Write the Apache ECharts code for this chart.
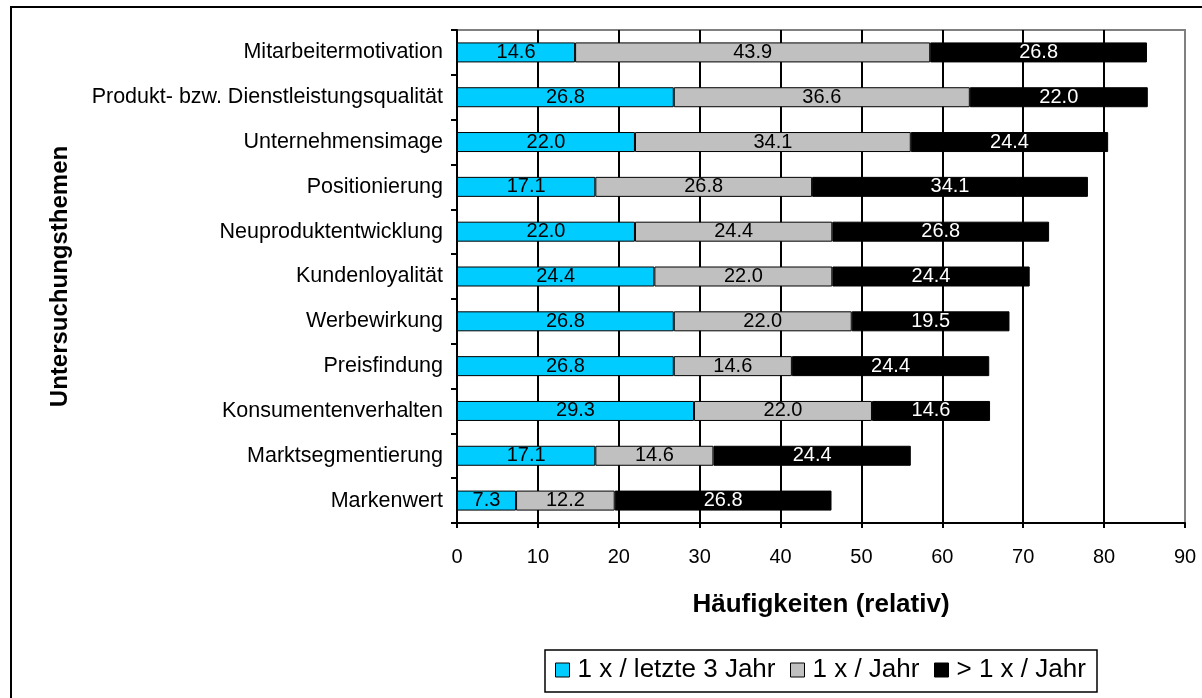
<!DOCTYPE html>
<html>
<head>
<meta charset="utf-8">
<script src="https://cdn.jsdelivr.net/npm/echarts@6/dist/echarts.min.js"></script>
<style>
  html, body { margin: 0; padding: 0; background: #fff; }
  #chart { width: 1202px; height: 698px; }
</style>
</head>
<body>
<div id="chart"></div>
<script>
// Topics, listed top to bottom
const categories = [
  'Mitarbeitermotivation',
  'Produkt- bzw. Dienstleistungsqualität',
  'Unternehmensimage',
  'Positionierung',
  'Neuproduktentwicklung',
  'Kundenloyalität',
  'Werbewirkung',
  'Preisfindung',
  'Konsumentenverhalten',
  'Marktsegmentierung',
  'Markenwert'
];
const seriesNames = ['1 x / letzte 3 Jahr', '1 x / Jahr', '> 1 x / Jahr'];
const lastThreeYears = [14.6, 26.8, 22.0, 17.1, 22.0, 24.4, 26.8, 26.8, 29.3, 17.1, 7.3];
const oncePerYear   = [43.9, 36.6, 34.1, 26.8, 24.4, 22.0, 22.0, 14.6, 22.0, 14.6, 12.2];
const moreThanOnce  = [26.8, 22.0, 24.4, 34.1, 26.8, 24.4, 19.5, 24.4, 14.6, 24.4, 26.8];
const xTicks = { min: 0, max: 90, interval: 10 };

const FONT = 'Liberation Sans, Arial, sans-serif';
const colors = ['#00CCFF', '#C0C0C0', '#000000'];
const labelColors = ['#000', '#000', '#fff'];
const dataSets = [lastThreeYears, oncePerYear, moreThanOnce];

const chart = echarts.init(document.getElementById('chart'), null, { renderer: 'canvas' });

const series = dataSets.map((d, i) => ({
  name: seriesNames[i],
  type: 'bar',
  stack: 'total',
  data: d,
  barWidth: 20,
  itemStyle: { color: colors[i], borderColor: '#000', borderWidth: 1 },
  label: {
    show: true,
    position: 'inside',
    formatter: p => p.value.toFixed(1),
    color: labelColors[i],
    fontFamily: FONT,
    fontSize: 20
  },
  emphasis: { disabled: true },
  animation: false
}));

// One legend entry per component so each entry sits at its own spot in the box
const legendLefts = [555, 790, 934];
const legends = seriesNames.map((n, i) => ({
  data: [n],
  left: legendLefts[i],
  top: 657,
  padding: 0,
  itemWidth: 14, itemHeight: 14,
  icon: 'rect',
  textStyle: { fontFamily: FONT, fontSize: 26, color: '#000', padding: [2, 0, 0, 3] },
  itemStyle: { borderColor: '#000', borderWidth: 1 },
  selectedMode: false
}));

chart.setOption({
  animation: false,
  backgroundColor: '#fff',
  textStyle: { fontFamily: FONT },
  grid: {
    left: 457, right: 17, top: 30, bottom: 175,
    show: true, borderColor: '#808080', borderWidth: 2, backgroundColor: 'transparent'
  },
  legend: legends,
  xAxis: {
    type: 'value',
    min: xTicks.min, max: xTicks.max, interval: xTicks.interval,
    name: 'Häufigkeiten (relativ)',
    nameLocation: 'middle',
    nameGap: 69,
    nameTextStyle: { fontFamily: FONT, fontSize: 26, fontWeight: 'bold', color: '#000' },
    axisLine: { show: true, lineStyle: { color: '#000', width: 2 } },
    axisTick: { show: true, length: 5, lineStyle: { color: '#000', width: 2 } },
    axisLabel: { fontFamily: FONT, fontSize: 20, color: '#000', margin: 24 },
    splitLine: { show: true, showMaxLine: false, lineStyle: { color: '#000', width: 2 } }
  },
  yAxis: {
    type: 'category',
    data: categories,
    inverse: true,
    name: 'Untersuchungsthemen',
    nameLocation: 'middle',
    nameGap: 385,
    nameRotate: 90,
    nameTextStyle: { fontFamily: FONT, fontSize: 24, fontWeight: 'bold', color: '#000' },
    axisLine: { show: true, lineStyle: { color: '#000', width: 2 } },
    axisTick: { show: true, length: 6, lineStyle: { color: '#000', width: 2 } },
    axisLabel: { fontFamily: FONT, fontSize: 21.5, color: '#000', margin: 14 },
    splitLine: { show: false }
  },
  graphic: [
    {
      type: 'rect',
      shape: { x: 11, y: 7, width: 1250, height: 760 },
      style: { fill: 'none', stroke: '#000', lineWidth: 2 },
      silent: true
    },
    {
      type: 'rect',
      shape: { x: 545, y: 650, width: 552, height: 42 },
      style: { fill: 'none', stroke: '#000', lineWidth: 1.5 },
      silent: true
    }
  ],
  series: series
});
</script>
</body>
</html>
